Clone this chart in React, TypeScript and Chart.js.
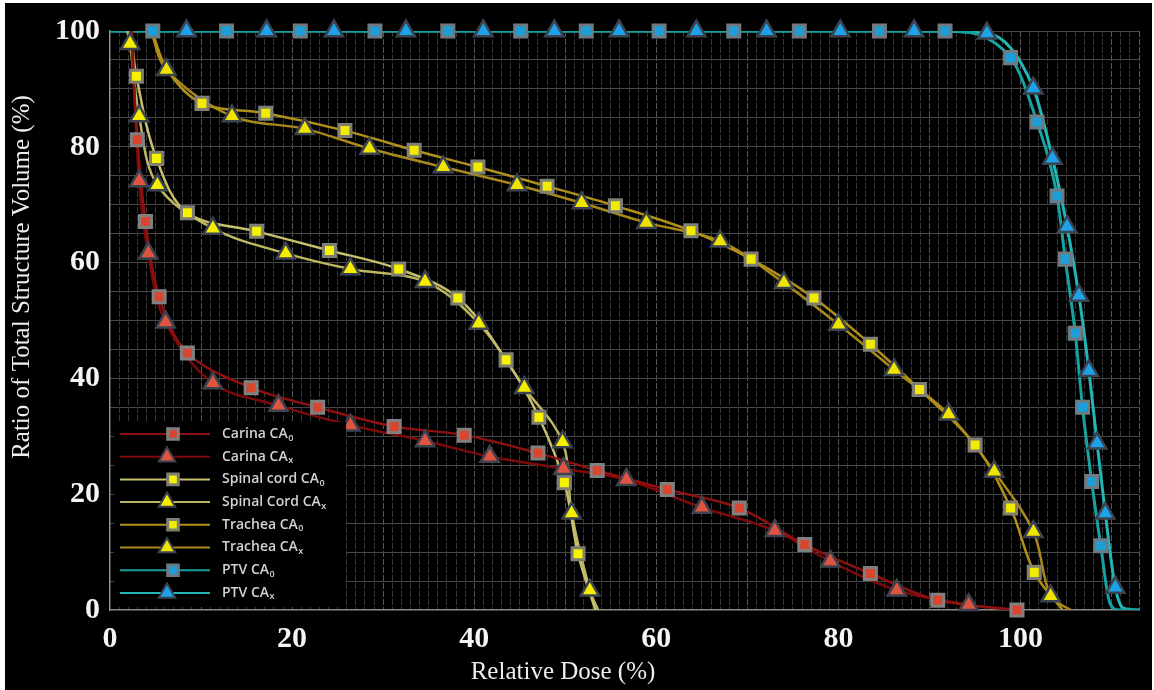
import React, { useEffect, useRef } from "react";
import { Chart, registerables } from "chart.js";

Chart.register(...registerables);

type P = [number, number];

// Tick labels
const xTickLabels = [0, 20, 40, 60, 80, 100];
const yTickLabels = [0, 20, 40, 60, 80, 100];

// Legend labels (main text + subscript)
const legendLabels = ["Carina CA", "Carina CA", "Spinal cord CA", "Spinal Cord CA", "Trachea CA", "Trachea CA", "PTV CA", "PTV CA"];
const legendSubs = ["0", "x", "0", "x", "0", "x", "0", "x"];

// Carina
const carinaCA0: P[] = [[3.0, 81.2], [3.9, 67.1], [5.4, 54.1], [8.5, 44.4], [15.5, 38.4], [22.8, 35.0], [31.2, 31.7], [38.9, 30.2], [47.0, 27.1], [53.5, 24.1], [61.2, 20.8], [69.1, 17.6], [76.3, 11.3], [83.5, 6.3], [90.9, 1.7], [99.6, 0]];
const carinaCA0Ends: P[] = [[2.3, 100]];
const carinaCAx: P[] = [[3.2, 74.1], [4.2, 61.6], [6.1, 49.7], [11.3, 39.2], [18.5, 35.3], [26.4, 31.9], [34.6, 29.2], [41.7, 26.5], [49.8, 24.4], [56.7, 22.5], [65.0, 17.7], [73.0, 13.7], [79.1, 8.4], [86.4, 3.4], [94.3, 0.9]];
const carinaCAxEnds: P[] = [[2.4, 100], [99.5, 0]];

// Spinal cord
const spinalCA0: P[] = [[2.9, 92.2], [5.1, 78.0], [8.5, 68.6], [16.1, 65.4], [24.1, 62.1], [31.7, 58.9], [38.2, 53.9], [43.5, 43.2], [47.1, 33.3], [49.9, 22.0], [51.4, 9.7]];
const spinalCA0Ends: P[] = [[2.3, 100], [53.3, 0]];
const spinalCAx: P[] = [[2.2, 97.8], [3.2, 85.3], [5.2, 73.4], [11.3, 65.9], [19.3, 61.6], [26.4, 58.9], [34.6, 56.7], [40.5, 49.5], [45.5, 38.4], [49.7, 29.0], [50.7, 16.7], [52.7, 3.4]];
const spinalCAxEnds: P[] = [[1.9, 100], [53.6, 0]];

// Trachea
const tracheaCA0: P[] = [[10.1, 87.5], [17.1, 85.8], [25.8, 82.8], [33.4, 79.4], [40.4, 76.5], [48.0, 73.2], [55.5, 69.8], [63.8, 65.5], [70.4, 60.6], [77.3, 53.9], [83.5, 45.9], [88.9, 38.1], [95.0, 28.5], [98.9, 17.6], [101.5, 6.5]];
const tracheaCA0Ends: P[] = [[4.6, 100], [6.4, 93.0], [104.6, 0]];
const tracheaCAx: P[] = [[6.2, 93.3], [13.4, 85.3], [21.4, 83.1], [28.5, 79.7], [36.6, 76.5], [44.7, 73.4], [51.8, 70.3], [58.9, 66.9], [67.0, 63.7], [74.0, 56.5], [80.0, 49.3], [86.1, 41.5], [92.1, 33.8], [97.1, 23.9], [101.4, 13.5], [103.3, 2.4]];
const tracheaCAxEnds: P[] = [[4.5, 100], [105.5, 0]];

// PTV
const ptvCA0: P[] = [[4.7, 100], [12.8, 100], [20.9, 100], [29.1, 100], [37.1, 100], [45.1, 100], [52.3, 100], [60.3, 100], [68.5, 100], [75.7, 100], [84.5, 100], [91.7, 100], [98.9, 95.4], [101.8, 84.3], [104.0, 71.5], [104.9, 60.6], [106.0, 47.8], [106.8, 35.0], [107.8, 22.2], [108.8, 11.1]];
const ptvCA0Ends: P[] = [[0, 100], [109.8, 1.2], [110.8, 0], [113, 0]];
const ptvCAx: P[] = [[8.4, 100], [17.2, 100], [24.6, 100], [32.5, 100], [41.0, 100], [48.8, 100], [55.9, 100], [64.4, 100], [72.1, 100], [80.2, 100], [88.3, 100], [96.3, 99.6], [101.4, 90.1], [103.5, 78.0], [105.1, 66.2], [106.4, 54.3], [107.5, 41.3], [108.4, 28.8], [109.3, 16.7], [110.4, 3.9]];
const ptvCAxEnds: P[] = [[0, 100], [111.3, 0.3], [113, 0]];

const seriesMarkers = [carinaCA0, carinaCAx, spinalCA0, spinalCAx, tracheaCA0, tracheaCAx, ptvCA0, ptvCAx];
const seriesEnds = [carinaCA0Ends, carinaCAxEnds, spinalCA0Ends, spinalCAxEnds, tracheaCA0Ends, tracheaCAxEnds, ptvCA0Ends, ptvCAxEnds];

// Styles
const lineColors = ["#8e1010", "#7c0a0a", "#c6bf6c", "#bdb660", "#b0901a", "#a8881a", "#17a2a2", "#22b6b6"];
const markerShapes = ["rect", "triangle", "rect", "triangle", "rect", "triangle", "rect", "triangle"];
const markerFills = ["#d9452f", "#de5440", "#f7f200", "#f5ec00", "#f2ea00", "#efe300", "#1c9fd8", "#1da2ea"];
const markerBorders = ["#808080", "#3c4350", "#7e7e74", "#3c4350", "#7e7e74", "#3c4350", "#6f7a80", "#3c4350"];

const toXY = (pts: P[]) => pts.map(([x, y]) => ({ x, y }));

function drawMarker(ctx: CanvasRenderingContext2D, shape: string, x: number, y: number, r: number, fill: string, border: string, bw: number) {
  ctx.beginPath();
  if (shape === "rect") {
    const s = Math.SQRT1_2 * r;
    ctx.rect(x - s, y - s, 2 * s, 2 * s);
  } else {
    let rad = 0;
    ctx.moveTo(x + Math.sin(rad) * r, y - Math.cos(rad) * r);
    rad += (2 * Math.PI) / 3;
    ctx.lineTo(x + Math.sin(rad) * r, y - Math.cos(rad) * r);
    rad += (2 * Math.PI) / 3;
    ctx.lineTo(x + Math.sin(rad) * r, y - Math.cos(rad) * r);
    ctx.closePath();
  }
  ctx.fillStyle = fill;
  ctx.fill();
  ctx.lineWidth = bw;
  ctx.strokeStyle = border;
  ctx.stroke();
}

const overlayPlugin = {
  id: "overlay",
  afterDatasetsDraw(chart: any) {
    const ctx: CanvasRenderingContext2D = chart.ctx;
    ctx.save();
    // legend box
    ctx.fillStyle = "#000";
    ctx.fillRect(109, 419, 232, 185);
    for (let i = 0; i < legendLabels.length; i++) {
      const y = 431 + i * 22.7;
      ctx.beginPath();
      ctx.moveTo(115, y);
      ctx.lineTo(205, y);
      ctx.lineWidth = 2;
      ctx.strokeStyle = lineColors[i];
      ctx.stroke();
      const shape = markerShapes[i];
      if (shape === "rect") drawMarker(ctx, shape, 168, y, 7.5, markerFills[i], markerBorders[i], 3);
      else drawMarker(ctx, shape, 162, y, 9.5, markerFills[i], markerBorders[i], 2);
      ctx.fillStyle = "#d2d2d2";
      ctx.textAlign = "left";
      ctx.textBaseline = "middle";
      ctx.font = '600 14px "Open Sans"';
      ctx.fillText(legendLabels[i], 217, y);
      const w = ctx.measureText(legendLabels[i]).width;
      ctx.font = '600 9px "Open Sans"';
      ctx.fillText(legendSubs[i], 217 + w + 0.5, y + 4);
    }
    ctx.restore();
  },
  afterDraw(chart: any) {
    const ctx: CanvasRenderingContext2D = chart.ctx;
    ctx.save();
    ctx.fillStyle = "#ededed";
    ctx.font = '25px "Liberation Serif"';
    ctx.textAlign = "center";
    ctx.textBaseline = "middle";
    ctx.fillText("Relative Dose (%)", 558, 669);
    ctx.translate(17, 274);
    ctx.rotate(-Math.PI / 2);
    ctx.fillText("Ratio of Total Structure Volume (%)", 0, 0);
    ctx.restore();
  },
};

export default function App() {
  const ref = useRef<HTMLCanvasElement | null>(null);
  useEffect(() => {
    if (!ref.current) return;
    const lineSets = seriesMarkers.map((m, i) => ({
      type: "line",
      data: toXY([...seriesEnds[i], ...m].sort((a, b) => a[0] - b[0])),
      borderColor: lineColors[i],
      borderWidth: i >= 6 ? 3 : 2.5,
      pointRadius: 0,
      cubicInterpolationMode: i >= 6 ? "monotone" : "default",
      tension: 0.35,
      fill: false,
      order: 2,
    }));
    const markerSets = seriesMarkers.map((m, i) => ({
      type: "line",
      data: toXY(m),
      showLine: false,
      pointStyle: markerShapes[i],
      pointRadius: markerShapes[i] === "rect" ? 8.5 : 10.5,
      pointBackgroundColor: markerFills[i],
      pointBorderColor: markerBorders[i],
      pointBorderWidth: markerShapes[i] === "rect" ? 3 : 2.5,
      clip: false,
      order: 1,
    }));
    const tickFont = { family: '"Liberation Serif", serif', size: 30, weight: "bold" as const };
    const chart = new Chart(ref.current, {
      type: "line",
      data: { datasets: [...markerSets, ...lineSets] as any },
      options: {
        animation: false,
        responsive: false,
        events: [],
        layout: { padding: { top: 21, right: 3, left: 0, bottom: 0 } },
        plugins: { legend: { display: false }, tooltip: { enabled: false } },
        scales: {
          x: {
            type: "linear",
            min: 0,
            max: 113,
            afterFit: (s: any) => { s.height = 80; },
            border: { display: true, color: "#8a8a8a", width: 1.5, dash: [6, 2] },
            grid: {
              drawTicks: false,
              lineWidth: 1,
              color: (c: any) => {
                const v = c.tick ? c.tick.value : 1;
                if (v === 0) return "rgba(0,0,0,0)";
                if (v === 113) return "#5a5a5a";
                return v % 10 === 0 ? "#575757" : "#383838";
              },
            },
            ticks: {
              stepSize: 1,
              autoSkip: false,
              maxRotation: 0,
              padding: 11,
              color: "#f4f4f4",
              font: tickFont,
              callback: (v: any) => (xTickLabels.includes(Number(v)) ? String(v) : ""),
            },
          },
          y: {
            min: 0,
            max: 100,
            afterFit: (s: any) => { s.width = 105; },
            border: { display: true, color: "#8f8f8f", width: 1.5 },
            grid: {
              drawTicks: false,
              color: (c: any) => (c.tick && c.tick.value === 0 ? "rgba(0,0,0,0)" : "#474747"),
            },
            ticks: {
              stepSize: 5,
              autoSkip: false,
              padding: 10,
              color: "#f4f4f4",
              font: tickFont,
              callback: (v: any) => (yTickLabels.includes(Number(v)) ? String(v) : ""),
            },
          },
        },
      },
      plugins: [overlayPlugin],
    } as any);
    return () => chart.destroy();
  }, []);
  return (
    <div style={{ position: "fixed", left: 0, top: 0, width: 1154, height: 690, background: "#fff" }}>
      <div style={{ position: "absolute", left: 5, top: 3, width: 1147, height: 687, background: "#000" }}>
        <canvas ref={ref} width={1147} height={687} />
      </div>
    </div>
  );
}
